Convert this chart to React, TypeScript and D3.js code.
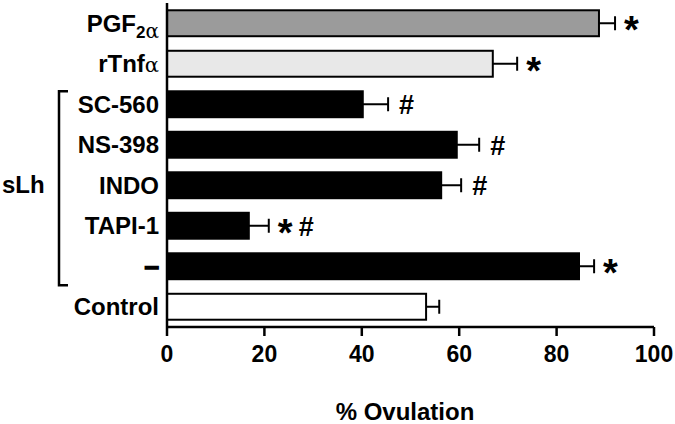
import React from "react";
import * as d3 from "d3";

const categories = ["PGF2a", "rTnfa", "SC-560", "NS-398", "INDO", "TAPI-1", "minus", "Control"];
const means = [88.7, 66.9, 40.2, 59.5, 56.3, 16.8, 84.6, 53.2];
const errors = [3.3, 5.0, 5.2, 4.6, 4.1, 4.1, 3.1, 2.7];
const fills = ["#9b9b9b", "#e8e8e8", "#000000", "#000000", "#000000", "#000000", "#000000", "#ffffff"];
const starMarks = [true, true, false, false, false, true, true, false];
const hashMarks = [false, false, true, true, true, true, false, false];
const xTicks = [0, 20, 40, 60, 80, 100];
const bracketCategories = ["SC-560", "minus"];
const groupLabel = "sLh";
const xTitle = "% Ovulation";

const FONT = "'Liberation Sans', Arial, Helvetica, sans-serif";

export default function App() {
  const W = 675, H = 424;
  const x = d3.scaleLinear().domain([0, 100]).range([167, 654]);
  const y = d3.scaleBand<string>().domain(categories).range([3, 327]).paddingInner(0.31).paddingOuter(0.155);
  const bw = y.bandwidth();
  const axisY = 327;

  const label = (c: string, i: number) => {
    const cy = (y(c) as number) + bw / 2;
    const common = { x: 159, y: cy + 8.5, textAnchor: "end" as const, fontSize: 24, fontWeight: 700, fontFamily: FONT, fill: "#000" };
    if (c === "PGF2a") {
      return (
        <text key={i} {...common}>
          PGF<tspan fontSize={17} dy={6}>2</tspan><tspan fontSize={20} fontWeight={400} fontFamily="'DejaVu Serif', serif">α</tspan>
        </text>
      );
    }
    if (c === "rTnfa") {
      return (
        <text key={i} {...common}>
          rTnf<tspan fontSize={21} fontWeight={400} fontFamily="'DejaVu Serif', serif">α</tspan>
        </text>
      );
    }
    if (c === "minus") {
      return <text key={i} {...common} fontSize={26} stroke="#000" strokeWidth={1.5}>–</text>;
    }
    return <text key={i} {...common}>{c}</text>;
  };

  const b0 = (y(bracketCategories[0]) as number);
  const b1 = (y(bracketCategories[1]) as number) + bw;
  const bracketTop = b0 + 1;
  const bracketBottom = b1 + 5;

  return (
    <svg width={W} height={H} style={{ position: "absolute", left: 0, top: 0, background: "#fff" }}>
      <rect x={0} y={0} width={W} height={H} fill="#fff" />
      {categories.map((c, i) => {
        const y0 = y(c) as number;
        const cy = y0 + bw / 2;
        const xe = x(means[i]);
        const xc = x(means[i] + errors[i]);
        return (
          <g key={c}>
            <rect x={x(0)} y={y0 + 1} width={xe - x(0)} height={bw - 2} fill={fills[i]} stroke="#000" strokeWidth={2} />
            <line x1={xe} x2={xc} y1={cy} y2={cy} stroke="#000" strokeWidth={2} />
            <line x1={xc} x2={xc} y1={cy - 7} y2={cy + 7} stroke="#000" strokeWidth={2} />
            {starMarks[i] && (
              <text x={xc + 9} y={cy + 20} fontSize={38} fontWeight={700} fontFamily={FONT}>*</text>
            )}
            {hashMarks[i] && (
              <text x={xc + (starMarks[i] ? 30 : 11)} y={cy + 10} fontSize={27} fontWeight={700} fontFamily={FONT}>#</text>
            )}
          </g>
        );
      })}
      {categories.map(label)}
      {/* axes */}
      <line x1={x(0)} x2={x(0)} y1={3} y2={axisY} stroke="#000" strokeWidth={2.5} />
      <line x1={x(0)} x2={x(100)} y1={axisY} y2={axisY} stroke="#000" strokeWidth={2.5} />
      {xTicks.map((t) => (
        <g key={t}>
          <line x1={x(t)} x2={x(t)} y1={axisY} y2={axisY + 9} stroke="#000" strokeWidth={2.5} />
          <text x={x(t)} y={362} textAnchor="middle" fontSize={23} fontWeight={700} fontFamily={FONT}>{t}</text>
        </g>
      ))}
      <text x={405} y={420} textAnchor="middle" fontSize={24} fontWeight={700} fontFamily={FONT}>{xTitle}</text>
      {/* bracket */}
      <path d={`M68,${bracketTop} H59 V${bracketBottom} H68`} fill="none" stroke="#000" strokeWidth={2.5} />
      <text x={2} y={193} fontSize={24} fontWeight={700} fontFamily={FONT}>{groupLabel}</text>
    </svg>
  );
}
